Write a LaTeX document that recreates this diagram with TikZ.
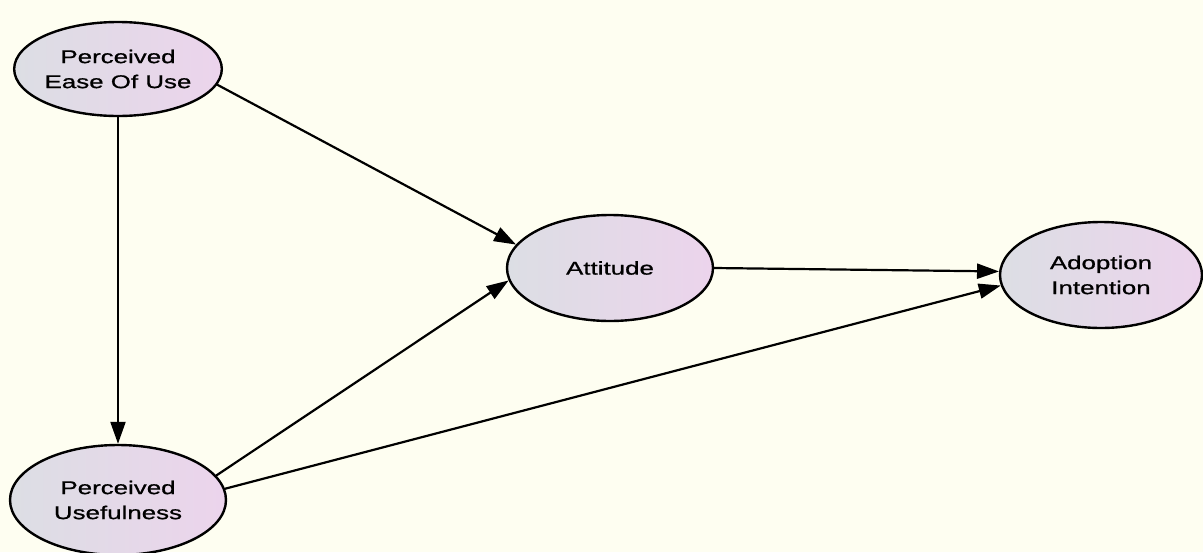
\documentclass[tikz,border=0pt]{standalone}
\usepackage{fontspec}
\newfontfamily\labelfont[FakeStretch=1.4,FakeBold=0.8]{Liberation Sans}
\usetikzlibrary{shapes.geometric,arrows.meta}
\definecolor{paper}{RGB}{254,254,241}
\definecolor{shadeL}{RGB}{220,222,228}
\definecolor{shadeR}{RGB}{236,212,236}
\begin{document}
\begin{tikzpicture}[x=1pt, y=-1pt, line join=round, line cap=round,
    construct/.style={ellipse, draw, line width=2.4pt, left color=shadeL, right color=shadeR,
      minimum width=206pt, minimum height=94pt, inner sep=0pt, align=center,
      font=\labelfont\fontsize{18.5}{25}\selectfont},
    path/.style={-{Triangle[length=22pt,width=15pt]}, line width=2.2pt}]
      \useasboundingbox (0,0) rectangle (1203,552);
      \fill[paper] (0,0) rectangle (1203,552);

      \node[construct] (peou) at (118,69) {Perceived\\Ease Of Use};
      \node[construct, minimum width=206pt, minimum height=106pt] (att) at (610,268) {Attitude};
      \node[construct, minimum width=202pt, minimum height=106pt] (ai) at (1101,275) {Adoption\\Intention};
      \node[construct, minimum width=216pt, minimum height=110pt] (pu) at (118,500) {Perceived\\Usefulness};

      \draw[path] (peou.south) -- (pu.north);
      \draw[path] (peou.-9) -- (att.166);
      \draw[path] (pu.14) -- (att.-173);
      \draw[path] (pu.6) -- (ai.-174);
      \draw[path] (att.0) -- (ai.178);
    \end{tikzpicture}
\end{document}
